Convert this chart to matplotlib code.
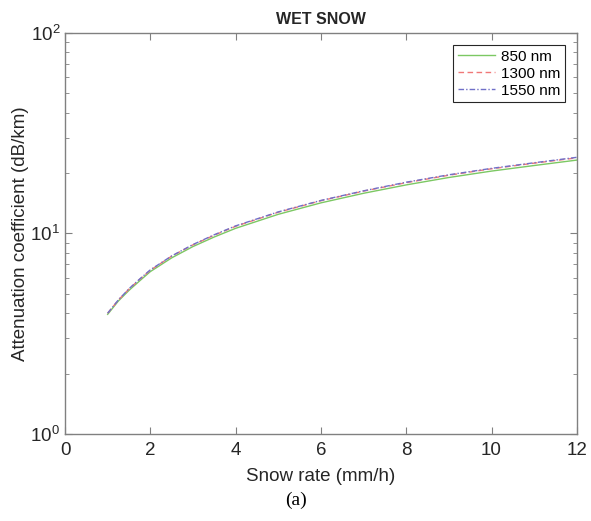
import numpy as np
import matplotlib
matplotlib.use("Agg")
import matplotlib.pyplot as plt
from matplotlib.ticker import LogLocator, NullFormatter

snow_rate = [1.0, 1.25, 1.5, 1.75, 2.0, 2.5, 3.0, 3.5, 4.0, 5.0, 6.0, 7.0, 8.0, 9.0, 10.0, 11.0, 12.0]
att_850 = [3.95, 4.6, 5.2, 5.8, 6.45, 7.55, 8.6, 9.6, 10.6, 12.45, 14.2, 15.85, 17.45, 19.0, 20.45, 21.8, 23.2]
att_1300 = [4.0, 4.65, 5.28, 5.9, 6.55, 7.7, 8.77, 9.8, 10.85, 12.75, 14.55, 16.25, 17.9, 19.5, 21.0, 22.4, 23.8]
att_1550 = [4.0, 4.66, 5.3, 5.92, 6.58, 7.72, 8.8, 9.85, 10.9, 12.8, 14.6, 16.3, 18.0, 19.6, 21.1, 22.5, 23.95]
labels = ["850 nm", "1300 nm", "1550 nm"]
x_ticks = [0, 2, 4, 6, 8, 10, 12]

plt.rcParams['font.family'] = ['Liberation Sans', 'DejaVu Sans']
fig = plt.figure(figsize=(5.91, 5.21), dpi=100)
ax = fig.add_axes([0.110, 0.167, 0.866, 0.770])

ax.plot(snow_rate, att_850, color='#7cc863', lw=1.0, ls='-', label=labels[0])
ax.plot(snow_rate, att_1300, color='#f07878', lw=1.0, ls=(0, (4, 2.5)), label=labels[1])
ax.plot(snow_rate, att_1550, color='#7070c8', lw=1.0, ls=(0, (4, 1.5, 1, 1.5)), label=labels[2])

ax.set_yscale('log')
ax.set_xlim(0, 12)
ax.set_ylim(1, 100)
ax.set_xticks(x_ticks)
ax.yaxis.set_major_locator(LogLocator(base=10, numticks=10))
ax.yaxis.set_minor_locator(LogLocator(base=10, subs=np.arange(2, 10), numticks=10))
ax.yaxis.set_minor_formatter(NullFormatter())

gray = '#808080'
for s in ax.spines.values():
    s.set_color(gray)
    s.set_linewidth(1.0)
ax.tick_params(which='both', direction='in', top=True, right=True, color=gray,
               labelsize=13.5, labelcolor='#262626')
ax.tick_params(which='major', length=5)
ax.tick_params(which='minor', length=3)
ax.tick_params(axis='x', which='major', pad=6)

ax.set_xlabel('Snow rate (mm/h)', fontsize=13.5, color='#262626', labelpad=6)
ax.set_ylabel('Attenuation coefficient (dB/km)', fontsize=13.5, color='#262626', labelpad=1)
ax.set_title('WET SNOW', fontsize=11.5, fontweight='bold', color='#262626', pad=6)

leg = ax.legend(loc='upper right', fontsize=11, frameon=True, fancybox=False,
                edgecolor='#262626', framealpha=1, borderpad=0.3, labelspacing=0.2,
                handlelength=2.4, handletextpad=0.4, borderaxespad=0.8)
leg.get_frame().set_linewidth(0.8)

fig.text(0.5, 0.04, '(a)', ha='center', va='center', fontsize=14,
         family=['Liberation Serif', 'DejaVu Serif'], color='black')

fig.savefig('out.png', dpi=100)
